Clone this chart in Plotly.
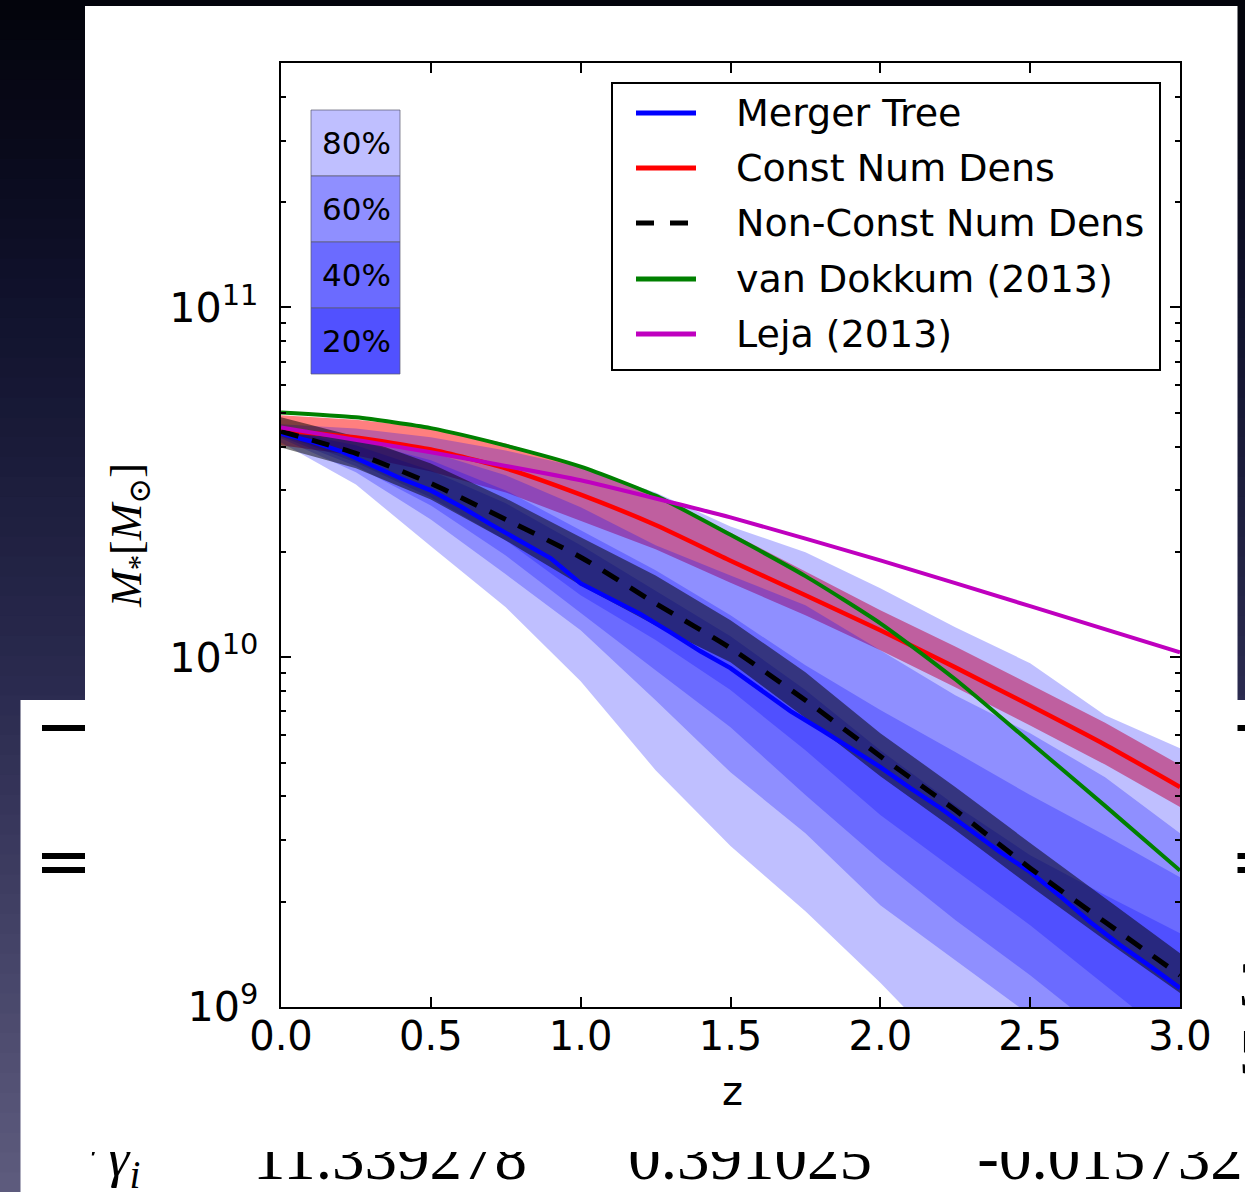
import plotly.graph_objects as go

W, H = 1245, 1192

# ---------------------------------------------------------------- data
# redshift sampling
z_med = [0.0, 0.1, 0.2, 0.3, 0.4, 0.5, 0.6, 0.7, 0.8, 0.9, 1.0, 1.1, 1.2, 1.3, 1.4, 1.5,
         1.6, 1.7, 1.8, 1.9, 2.0, 2.1, 2.2, 2.3, 2.4, 2.5, 2.6, 2.7, 2.8, 2.9, 3.0]
z = [0.0, 0.25, 0.5, 0.75, 1.0, 1.25, 1.5, 1.75, 2.0, 2.25, 2.5, 2.75, 3.0]

# log10(M*/Msun) : merger-tree median progenitor track
merger_tree = [10.640, 10.617, 10.589, 10.551, 10.511, 10.477, 10.431, 10.380, 10.331, 10.283,
               10.211, 10.166, 10.123, 10.071, 10.017, 9.969, 9.906, 9.846, 9.794, 9.740,
               9.686, 9.626, 9.569, 9.506, 9.443, 9.386, 9.317, 9.243, 9.177, 9.117, 9.054]

# merger-tree percentile envelopes (upper / lower edges)
p80_hi = [10.666, 10.654, 10.629, 10.591, 10.543, 10.471, 10.374, 10.300, 10.197, 10.086, 9.983, 9.834, 9.740]
p80_lo = [10.614, 10.494, 10.317, 10.143, 9.931, 9.677, 9.460, 9.274, 9.069, 8.849, 8.649, 8.449, 8.249]
p60_hi = [10.660, 10.631, 10.586, 10.520, 10.429, 10.320, 10.234, 10.149, 10.020, 9.891, 9.783, 9.657, 9.497]
p60_lo = [10.626, 10.529, 10.394, 10.237, 10.077, 9.877, 9.671, 9.497, 9.291, 9.134, 8.977, 8.820, 8.663]
p40_hi = [10.654, 10.620, 10.563, 10.477, 10.363, 10.249, 10.120, 9.977, 9.849, 9.729, 9.606, 9.491, 9.371]
p40_lo = [10.631, 10.546, 10.434, 10.291, 10.126, 9.963, 9.800, 9.606, 9.420, 9.249, 9.091, 8.920, 8.763]
p20_hi = [10.649, 10.606, 10.534, 10.440, 10.320, 10.191, 10.060, 9.906, 9.734, 9.577, 9.434, 9.320, 9.211]
p20_lo = [10.637, 10.557, 10.457, 10.334, 10.177, 10.049, 9.906, 9.734, 9.549, 9.391, 9.234, 9.063, 8.891]

# constant number density track and its uncertainty
const_nd = [10.649, 10.628, 10.594, 10.540, 10.465, 10.378, 10.276, 10.177, 10.077, 9.971, 9.862, 9.750, 9.629]
const_hi = [10.692, 10.679, 10.657, 10.611, 10.545, 10.464, 10.356, 10.246, 10.134, 10.031, 9.922, 9.813, 9.692]
const_lo = [10.606, 10.577, 10.531, 10.471, 10.391, 10.309, 10.213, 10.120, 10.020, 9.914, 9.805, 9.693, 9.572]

# non-constant number density track and its uncertainty
nonconst_nd = [10.646, 10.583, 10.497, 10.394, 10.286, 10.154, 10.026, 9.877, 9.717, 9.563, 9.397, 9.243, 9.091]
nonconst_hi = [10.686, 10.631, 10.554, 10.454, 10.343, 10.234, 10.106, 9.957, 9.783, 9.629, 9.469, 9.311, 9.154]
nonconst_lo = [10.600, 10.540, 10.451, 10.334, 10.206, 10.091, 9.986, 9.826, 9.660, 9.506, 9.346, 9.191, 9.040]

# literature tracks
van_dokkum = [10.700, 10.686, 10.655, 10.605, 10.545, 10.462, 10.350, 10.232, 10.097, 9.937, 9.757, 9.575, 9.390]
leja_z = [0.0, 0.5, 1.0, 1.5, 2.0, 2.5, 3.0]
leja = [10.657, 10.586, 10.506, 10.400, 10.277, 10.146, 10.014]

legend_names = ["Merger Tree", "Const Num Dens", "Non-Const Num Dens", "van Dokkum (2013)", "Leja (2013)"]
band_labels = ["80%", "60%", "40%", "20%"]
x_ticks = [0.0, 0.5, 1.0, 1.5, 2.0, 2.5, 3.0]

# table row peeking out below the figure
table_values = ["11.339278", "0.391025", "-0.015732"]
# right-hand column of the table, mostly hidden behind the figure
table_edge_glyphs = ["3", "5"]

# ---------------------------------------------------------------- helpers
def lin(v):
    return [10 ** a for a in v]


def band(xs, hi, lo, color):
    return go.Scatter(x=xs + xs[::-1], y=lin(hi) + lin(lo)[::-1], mode="lines",
                      fill="toself", fillcolor=color, line=dict(width=0),
                      hoverinfo="skip", showlegend=False)


def px(x):
    return x / W


def py(y):
    return 1 - y / H


def rect(x0, y0, x1, y1, fill, line_color=None, line_width=0):
    return dict(type="rect", xref="paper", yref="paper", layer="below",
                x0=px(x0), x1=px(x1), y0=py(y1), y1=py(y0), fillcolor=fill,
                line=dict(color=line_color or fill, width=line_width))


SANS = "DejaVu Sans"
SERIF = "Liberation Serif, DejaVu Serif, serif"

# ---------------------------------------------------------------- traces
traces = [
    band(z, const_hi, const_lo, "rgba(255,0,0,0.5)"),
    band(z, p80_hi, p80_lo, "rgba(0,0,255,0.25)"),
    band(z, p60_hi, p60_lo, "rgba(0,0,255,0.25)"),
    band(z, p40_hi, p40_lo, "rgba(0,0,255,0.25)"),
    band(z, p20_hi, p20_lo, "rgba(0,0,255,0.25)"),
    band(z, nonconst_hi, nonconst_lo, "rgba(0,0,0,0.5)"),
    go.Scatter(x=z_med, y=lin(merger_tree), mode="lines", name=legend_names[0],
               line=dict(color="#0000ff", width=4.5)),
    go.Scatter(x=z, y=lin(const_nd), mode="lines", name=legend_names[1],
               line=dict(color="#ff0000", width=4.5, shape="spline", smoothing=0.6)),
    go.Scatter(x=z, y=lin(nonconst_nd), mode="lines", name=legend_names[2],
               line=dict(color="black", width=5, dash="18px,14px", shape="spline", smoothing=0.6)),
    go.Scatter(x=z, y=lin(van_dokkum), mode="lines", name=legend_names[3],
               line=dict(color="#008000", width=4, shape="spline", smoothing=0.6)),
    go.Scatter(x=leja_z, y=lin(leja), mode="lines", name=legend_names[4],
               line=dict(color="#bf00bf", width=4, shape="spline", smoothing=0.4)),
]

# text of the table behind the figure, clipped by small hidden subplots
traces.append(go.Scatter(
    x=[390, 750, 1110], y=[1163, 1163, 1163], mode="text", text=table_values,
    textposition="middle center", textfont=dict(family=SERIF, size=65, color="black"),
    cliponaxis=True, xaxis="x2", yaxis="y2", hoverinfo="skip", showlegend=False))
traces.append(go.Scatter(
    x=[95, 124], y=[1166, 1162], mode="text", text=["′", "<i>γ<sub>i</sub></i>"],
    textposition="middle center", textfont=dict(family=SERIF, size=56, color="black"),
    cliponaxis=True, xaxis="x2", yaxis="y2", hoverinfo="skip", showlegend=False))
traces.append(go.Scatter(
    x=[1255, 1255], y=[990, 1058], mode="text", text=table_edge_glyphs,
    textposition="middle center", textfont=dict(family=SERIF, size=65, color="black"),
    cliponaxis=True, xaxis="x3", yaxis="y3", hoverinfo="skip", showlegend=False))

fig = go.Figure(traces)

# ---------------------------------------------------------------- decoration
shapes = []
# dark slide background, vertical gradient
stops = [(0, (3, 3, 11)), (300, (16, 18, 44)), (700, (43, 43, 80)), (1192, (94, 92, 126))]
n = 60
for i in range(n):
    y0 = H * i / n
    y1 = H * (i + 1) / n + 1
    yc = 0.5 * (y0 + y1)
    for (ya, ca), (yb, cb) in zip(stops[:-1], stops[1:]):
        if ya <= yc <= yb:
            t = (yc - ya) / (yb - ya)
            c = tuple(int(round(a + (b - a) * t)) for a, b in zip(ca, cb))
            break
    shapes.append(rect(0, y0, W, y1, "rgb(%d,%d,%d)" % c))

# table slide underneath
shapes.append(rect(20.5, 700, W + 2, H + 2, "white"))
for (y0, y1) in [(725, 731), (853, 859), (867, 873)]:
    shapes.append(rect(42, y0, 86, y1, "black"))
    shapes.append(rect(1236, y0, W + 2, y1, "black"))
# figure panel
shapes.append(rect(85, 6, 1237.5, 1152, "white"))

# percentile key
box_colors = ["#bfbfff", "#8f8fff", "#6b6bff", "#5151ff"]
key_top, key_h = 110, 66
for k, (lab, col) in enumerate(zip(band_labels, box_colors)):
    shapes.append(rect(311, key_top + k * key_h, 400, key_top + (k + 1) * key_h, col,
                       "rgba(90,90,110,0.7)", 1))

# legend frame and handles
leg_y = [113, 168, 223, 279, 334]
leg_colors = ["#0000ff", "#ff0000", "black", "#008000", "#bf00bf"]
shapes.append(dict(type="rect", xref="paper", yref="paper", layer="above",
                   x0=px(612), x1=px(1160), y0=py(370), y1=py(83),
                   fillcolor="white", line=dict(color="black", width=2)))
for yy, col, nm in zip(leg_y, leg_colors, legend_names):
    shapes.append(dict(type="line", xref="paper", yref="paper", layer="above",
                       x0=px(636), x1=px(696), y0=py(yy), y1=py(yy),
                       line=dict(color=col, width=5,
                                 dash="18px,16px" if nm.startswith("Non") else "solid")))

annotations = []
for k, lab in enumerate(band_labels):
    annotations.append(dict(xref="paper", yref="paper", x=px(356), y=py(key_top + (k + 0.5) * key_h),
                            text=lab, showarrow=False, xanchor="center", yanchor="middle",
                            font=dict(family=SANS, size=31, color="black")))
for yy, nm in zip(leg_y, legend_names):
    annotations.append(dict(xref="paper", yref="paper", x=px(734), y=py(yy), text=nm,
                            showarrow=False, xanchor="left", yanchor="middle",
                            font=dict(family=SANS, size=38, color="black")))
annotations.append(dict(xref="paper", yref="paper", x=px(732), y=py(1091), text="z",
                        showarrow=False, xanchor="center", yanchor="middle",
                        font=dict(family=SANS, size=40, color="black")))
annotations.append(dict(xref="paper", yref="paper", x=px(129), y=py(536), textangle=-90,
                        text="<i>M</i><sub>*</sub>[<i>M</i><sub>⊙</sub>]",
                        showarrow=False, xanchor="center", yanchor="middle",
                        font=dict(family=SERIF, size=44, color="black")))

axis_common = dict(showline=True, linecolor="black", linewidth=2, mirror="allticks",
                   ticks="inside", ticklen=10, tickwidth=1.5, tickcolor="black",
                   showgrid=False, zeroline=False, automargin=False)
hidden_axis = dict(visible=False, showticklabels=False, ticks="", showgrid=False,
                   zeroline=False, automargin=False, fixedrange=True)

fig.update_layout(
    width=W, height=H, autosize=False,
    margin=dict(l=0, r=0, t=0, b=0, pad=0),
    paper_bgcolor="rgb(3,3,11)", plot_bgcolor="rgba(0,0,0,0)",
    showlegend=False,
    shapes=shapes, annotations=annotations,
    xaxis=dict(domain=[px(281), px(1180)], range=[0, 3], tickvals=x_ticks,
               ticktext=["%.1f" % v for v in x_ticks],
               tickfont=dict(family=SANS, size=40, color="black"), ticklabelstandoff=-7,
               **axis_common),
    yaxis=dict(type="log", domain=[py(1007), py(63)], range=[9, 11.699], dtick=1,
               exponentformat="power", tickfont=dict(family=SANS, size=33, color="black"),
               ticklabelstandoff=14,
               minor=dict(ticks="inside", ticklen=5, tickwidth=1.5, tickcolor="black",
                          dtick="D1", showgrid=False),
               **axis_common),
    xaxis2=dict(domain=[0, 1], range=[0, W], anchor="y2", **hidden_axis),
    yaxis2=dict(domain=[0, py(1152)], range=[H, 1152], anchor="x2", **hidden_axis),
    xaxis3=dict(domain=[px(1237.5), 1], range=[1237.5, W], anchor="y3", **hidden_axis),
    yaxis3=dict(domain=[py(1152), py(700)], range=[1152, 700], anchor="x3", **hidden_axis),
)

fig.write_html("out.html")
